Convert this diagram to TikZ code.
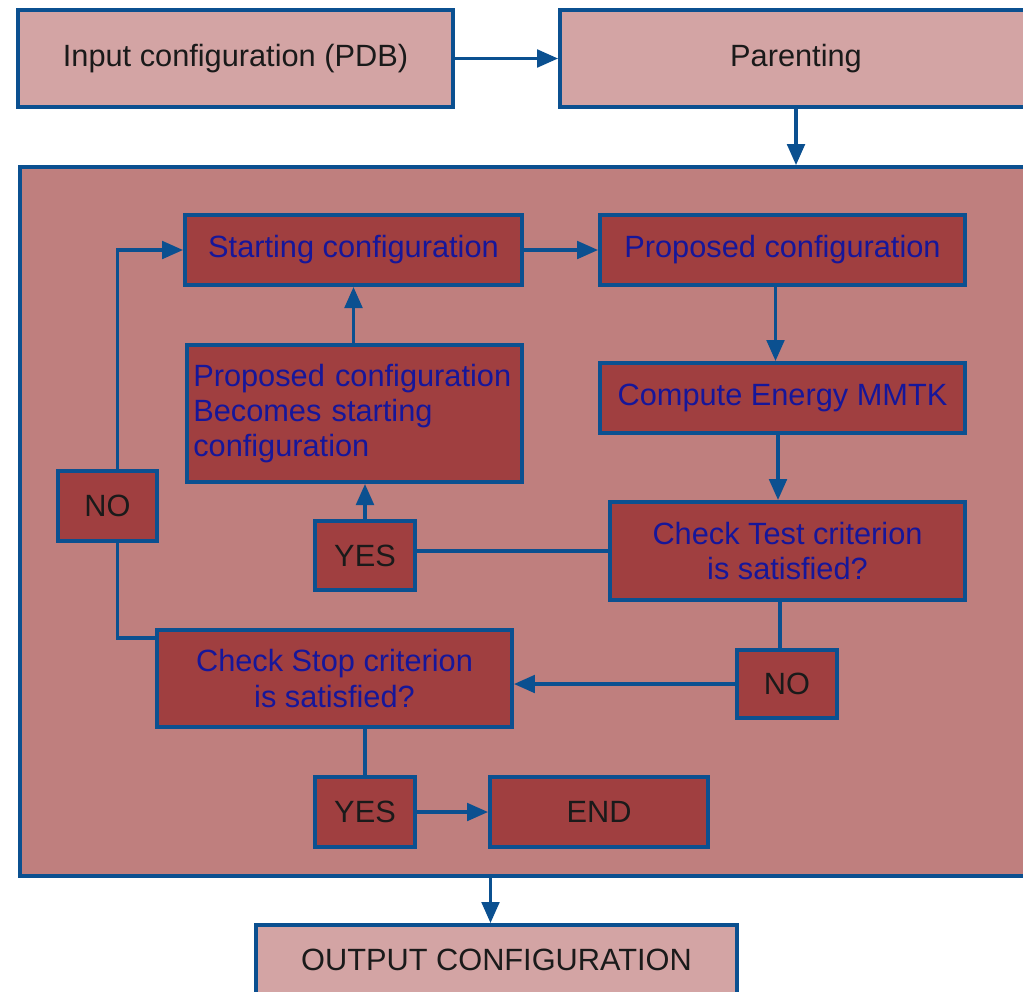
\documentclass[tikz,border=0pt]{standalone}
\usepackage{fontspec}
\setmainfont{Liberation Sans}
\usepackage{tikz}
\usetikzlibrary{arrows.meta, positioning}
\definecolor{lightrose}{HTML}{D3A4A4}
\definecolor{looprose}{HTML}{BF7F7E}
\definecolor{darkrose}{HTML}{A03F40}
\definecolor{edgeblue}{HTML}{0B5090}
\definecolor{navytext}{HTML}{16169A}
\definecolor{inktext}{HTML}{1A1A1A}
\tikzstyle{base}=[rectangle, draw=edgeblue, line width=2.2pt, inner sep=0.12cm,
  font=\fontsize{17.5}{20}\selectfont]
\tikzstyle{outerbox}=[base, fill=lightrose, text=inktext]
\tikzstyle{stepbox}=[base, fill=darkrose, text=navytext, align=center]
\tikzstyle{answer}=[base, fill=darkrose, text=inktext]
\tikzstyle{link}=[draw=edgeblue, line width=2pt]
\tikzstyle{flow}=[link, -{Triangle[length=12pt,width=10pt]}]
\newcommand{\stepnode}{\node[stepbox]}
\newcommand{\answer}{\node[answer]}

\begin{document}
\begin{tikzpicture}[x=0.02cm, y=-0.02cm]
                    \clip (0,0) rectangle (1023,991);
                    \useasboundingbox (0,0) rectangle (1023,991);
                    \node[outerbox, minimum width=8.7cm, minimum height=1.94cm] (inp) at (235.5,58.5) {Input configuration (PDB)};
                    \node[outerbox, minimum width=9.44cm, minimum height=1.94cm] (par) at (796,58.5) {Parenting};
                    \node[base, fill=looprose, minimum width=20.4cm, minimum height=14.18cm] (mc) at (530,521.5) {};
                    \stepnode[minimum width=6.74cm, minimum height=1.4cm] (start) at (353.5,250) {Starting configuration};
                    \stepnode[minimum width=7.3cm, minimum height=1.4cm] (prop) at (782.5,250) {Proposed configuration};
                    \stepnode[minimum width=7.3cm, minimum height=1.4cm] (energy) at (782.5,398) {Compute Energy MMTK};
                    \stepnode[minimum width=7.1cm, minimum height=1.96cm] (test) at (787.5,551) {Check Test criterion\\ is satisfied?};
                    \stepnode[minimum width=6.7cm, minimum height=2.74cm, align=left, text width=6.45cm] (becomes) at (354.5,413.5) {Proposed configuration\\ Becomes starting\\ configuration};
                    \stepnode[minimum width=7.1cm, minimum height=1.94cm] (stop) at (334.5,678.5) {Check Stop criterion\\ is satisfied?};
                    \answer[minimum width=2cm, minimum height=1.38cm] (yes1) at (365,555.5) {YES};
                    \answer[minimum width=2cm, minimum height=1.36cm] (no1) at (787,684) {NO};
                    \answer[minimum width=1.98cm, minimum height=1.4cm] (no2) at (107.5,506) {NO};
                    \answer[minimum width=2cm, minimum height=1.4cm] (yes2) at (365,812) {YES};
                    \answer[minimum width=4.36cm, minimum height=1.4cm] (end) at (599,812) {END};
                    \node[outerbox, minimum width=9.62cm, minimum height=1.4cm] (out) at (496.5,960) {OUTPUT CONFIGURATION};
                    % main line
                    \draw[flow] (inp) -- (par);
                    \draw[flow] (par.south) -- (par.south |- mc.north);
                    \draw[flow] (start) -- (prop);
                    \draw[flow] ([xshift=-0.14cm]prop.south) -- ([xshift=-0.14cm]energy.north);
                    \draw[flow] ([xshift=-0.09cm]energy.south) -- ([xshift=-0.09cm]energy.south |- test.north);
                    % test answers
                    \draw[link] (test.west) -- (test.west -| yes1.east);
                    \draw[flow] (yes1.north) -- (yes1.north |- becomes.south);
                    \draw[flow] (becomes.north -| start.south) -- (start.south);
                    \draw[link] ([xshift=-0.15cm]test.south) -- ([xshift=-0.15cm]test.south |- no1.north);
                    \draw[flow] (no1.west) -- (no1.west -| stop.east);
                    % stop answers
                    \draw[link] ([yshift=-0.2cm]stop.north west) -| ([xshift=0.2cm]no2.south);
                    \draw[flow] ([xshift=0.2cm]no2.north) |- (start.west);
                    \draw[link] (yes2.north |- stop.south) -- (yes2.north);
                    \draw[flow] (yes2) -- (end);
                    \draw[flow] ([xshift=-0.12cm]out.north |- mc.south) -- ([xshift=-0.12cm]out.north);
                \end{tikzpicture}
\end{document}
